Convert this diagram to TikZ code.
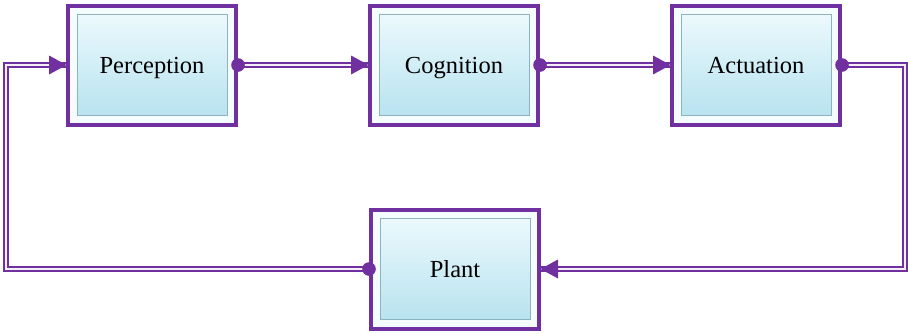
\documentclass[tikz,border=0pt]{standalone}
\usepackage{fontspec}
\setmainfont{Liberation Serif}
\usetikzlibrary{decorations.markings}
\definecolor{frame}{HTML}{7030A0}
\definecolor{paneltop}{HTML}{F0FBFE}
\definecolor{panelbot}{HTML}{B3E1EE}
\definecolor{panelrim}{HTML}{8FB3BC}
\definecolor{margin}{HTML}{F4FCFE}
\definecolor{pipecore}{HTML}{F4EEF8}
\tikzset{
  block/.style={draw=frame, line width=4pt, fill=margin,
    minimum width=168pt, minimum height=119pt, inner sep=0pt,
    text depth=0pt,
    font=\fontsize{24.5}{29}\selectfont,
    path picture={
      \shade[top color=paneltop, bottom color=panelbot]
        ([shift={(9pt,-9pt)}]path picture bounding box.north west) rectangle
        ([shift={(-9pt,9pt)}]path picture bounding box.south east);
      \draw[panelrim, line width=0.8pt]
        ([shift={(9pt,-9pt)}]path picture bounding box.north west) rectangle
        ([shift={(-9pt,9pt)}]path picture bounding box.south east);
    }},
  pipe/.style={draw=frame, line width=1.6pt, double=pipecore, double distance=2.2pt,
    line join=miter,
    postaction={decorate, decoration={markings,
      mark=at position 0 with {\fill[frame] (0,0) circle (6.8pt);},
      mark=at position 1 with {\fill[frame] (0.5pt,0) -- (-17pt,9.5pt) -- (-17pt,-9.5pt) -- cycle;}}}},
}
\begin{document}
\begin{tikzpicture}[x=1pt, y=-1pt]
  \useasboundingbox (0,0) rectangle (908,333);
  % forward chain
  \node[block] (perc) at (152,65) {Perception};
  \node[block] (cogn) at (454,65) {Cognition};
  \node[block] (actu) at (756,65) {Actuation};
  % controlled process
  \node[block] (plant) at (455,269) {Plant};
  % connectors
  \draw[pipe] (perc.east) -- (cogn.west);
  \draw[pipe] (cogn.east) -- (actu.west);
  \draw[pipe] (actu.east) -- ++(63,0) |- (plant.east);
  \draw[pipe] (plant.west) -- ++(-363,0) |- (perc.west);
\end{tikzpicture}
\end{document}
